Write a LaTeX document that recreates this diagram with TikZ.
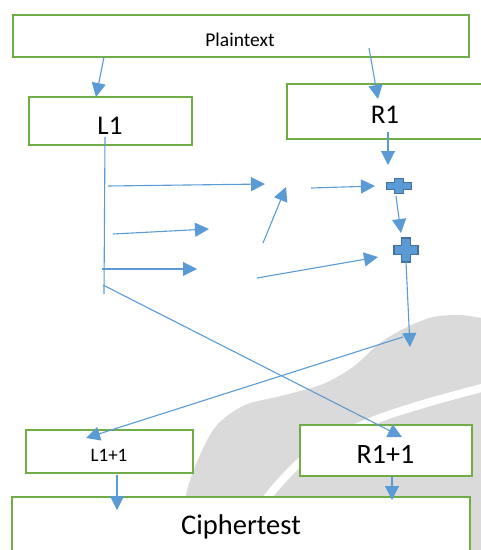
\documentclass[tikz,border=0pt]{standalone}
\usepackage{fontspec}
\setmainfont{Carlito}
\usetikzlibrary{arrows.meta}
\definecolor{gbox}{HTML}{70AD47}
\definecolor{barrow}{HTML}{5B9BD5}
\definecolor{pborder}{HTML}{41719C}
\definecolor{wmark}{HTML}{DADADA}
\begin{document}
\begin{tikzpicture}[x=1pt,y=-1pt,
  box/.style={draw=gbox,line width=2.6pt,fill=white,inner sep=0pt},
  conn/.style={draw=barrow,line width=1.1pt,-{Triangle[length=14pt,width=14pt]}},
  plainline/.style={draw=barrow,line width=1.1pt},
  plusst/.style={draw=pborder,fill=barrow,line width=1.6pt,line join=miter},
  lbl/.style={anchor=base,inner sep=0pt,text=black}]
\useasboundingbox (0,0) rectangle (481,550);
\clip (0,0) rectangle (481,550);
% watermark
\fill[wmark] plot[smooth] coordinates {(182,550) (186,495) (200,455) (217,425) (245,405) (285,395) (323,384) (353,367) (380,343) (407,327) (433,317) (460,315) (481,318)} -- (481,550) -- cycle;
\draw[white,line width=8pt] plot[smooth] coordinates {(485,387) (430,402) (380,418) (330,440) (300,462) (275,488) (262,505)};
% boxes
\node[box,minimum width=456pt,minimum height=42pt] (plain) at (241,36) {};
\node[box,minimum width=163pt,minimum height=48pt] (L1) at (110.5,121) {};
\node[box,minimum width=196pt,minimum height=55pt] (R1) at (385,111.5) {};
\node[box,minimum width=167pt,minimum height=43pt] (L2) at (109.5,451.5) {};
\node[box,minimum width=172pt,minimum height=51pt] (R2) at (386,450.5) {};
\node[box,minimum width=458pt,minimum height=60pt] (ct) at (241,527) {};
% texts
\node[lbl,font=\fontsize{19.5}{20}\selectfont] (tplain) at (240,46) {Plaintext};
\node[lbl,font=\fontsize{27}{28}\selectfont] (tL1) at (110,134) {L1};
\node[lbl,font=\fontsize{27}{28}\selectfont] (tR1) at (385,123) {R1};
\node[lbl,font=\fontsize{19}{20}\selectfont] (tL2) at (109,461) {L1+1};
\node[lbl,font=\fontsize{28}{29}\selectfont] (tR2) at (385.5,463) {R1+1};
\node[lbl,font=\fontsize{28.5}{29}\selectfont] (tct) at (241,534) {Ciphertest};
% plus signs
\node[inner sep=0pt,minimum width=25pt,minimum height=15pt] (sp) at (399,186) {};
\node[inner sep=0pt,minimum width=24pt,minimum height=24pt] (bp) at (406,250) {};
\draw[plusst] (sp) ++(-12.5,-3.5) -- ++(8,0) -- ++(0,-4) -- ++(9,0) -- ++(0,4) -- ++(8,0) -- ++(0,7) -- ++(-8,0) -- ++(0,4) -- ++(-9,0) -- ++(0,-4) -- ++(-8,0) -- cycle;
\draw[plusst] (bp) ++(-12,-4.5) -- ++(7.5,0) -- ++(0,-7.5) -- ++(9,0) -- ++(0,7.5) -- ++(7.5,0) -- ++(0,9) -- ++(-7.5,0) -- ++(0,7.5) -- ++(-9,0) -- ++(0,-7.5) -- ++(-7.5,0) -- cycle;
% connector end points
\coordinate (a1s) at (104,57);   \coordinate (a1e) at (96,97);
\coordinate (a2s) at (369,48);   \coordinate (a2e) at (378,99);
\coordinate (a3s) at (388,132);  \coordinate (a3e) at (388,165);
\coordinate (a4s) at (396,196);  \coordinate (a4e) at (401,233);
\coordinate (l1s) at (105,137);  \coordinate (l1e) at (104,294);
\coordinate (a5s) at (108,186);  \coordinate (a5e) at (265,184);
\coordinate (a6s) at (113,234);  \coordinate (a6e) at (209,229);
\coordinate (a7s) at (102,269);  \coordinate (a7e) at (197,269);
\coordinate (a8s) at (263,243);  \coordinate (a8e) at (286,187);
\coordinate (a9s) at (311,188);  \coordinate (a9e) at (375,186);
\coordinate (a10s) at (257,278); \coordinate (a10e) at (378,257);
\coordinate (a11s) at (406,262); \coordinate (a11e) at (410,347);
\coordinate (a12s) at (403,337); \coordinate (a12e) at (86,438);
\coordinate (a13s) at (103,285); \coordinate (a13e) at (402,437);
\coordinate (a14s) at (117,475); \coordinate (a14e) at (117,510);
\coordinate (a15s) at (392,477); \coordinate (a15e) at (392,500);
% connectors
\draw[conn] (a1s) -- (a1e);
\draw[conn] (a2s) -- (a2e);
\draw[conn] (a3s) -- (a3e);
\draw[conn] (a4s) -- (a4e);
\draw[plainline] (l1s) -- (l1e);
\draw[conn] (a5s) -- (a5e);
\draw[conn] (a6s) -- (a6e);
\draw[conn] (a7s) -- (a7e);
\draw[conn] (a8s) -- (a8e);
\draw[conn] (a9s) -- (a9e);
\draw[conn] (a10s) -- (a10e);
\draw[conn] (a11s) -- (a11e);
\draw[conn] (a12s) -- (a12e);
\draw[conn] (a13s) -- (a13e);
\draw[conn] (a14s) -- (a14e);
\draw[conn] (a15s) -- (a15e);
\end{tikzpicture}
\end{document}
